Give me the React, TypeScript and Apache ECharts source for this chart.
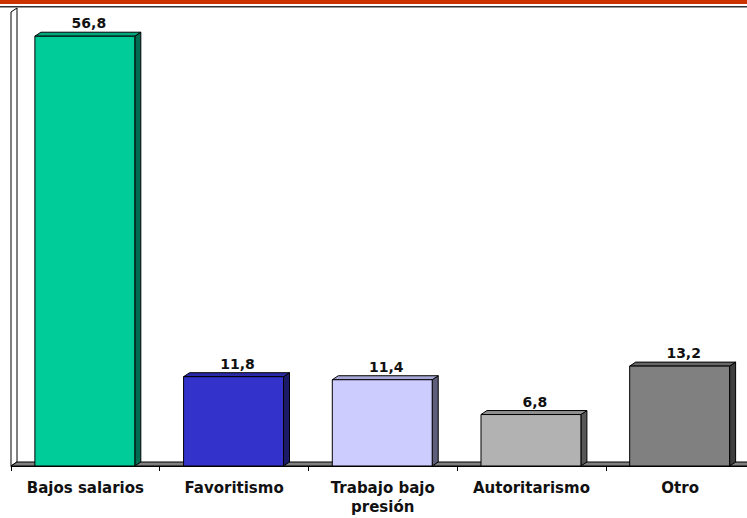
import React, { useEffect, useRef } from "react";
import * as echarts from "echarts";

const categories = ["Bajos salarios", "Favoritismo", "Trabajo bajo\npresión", "Autoritarismo", "Otro"];
const values = [56.8, 11.8, 11.4, 6.8, 13.2];
const valueLabels = ["56,8", "11,8", "11,4", "6,8", "13,2"];
const frontColors = ["#00CC99", "#3333CC", "#CCCCFF", "#B2B2B2", "#808080"];
const topColors = ["#00A87E", "#2A2AA8", "#A8A8D6", "#8F8F8F", "#686868"];
const sideColors = ["#006B50", "#1A1A66", "#5E5E7A", "#575757", "#3E3E3E"];
const yMin = 0;
const yMax = 60;

const DX = 6;
const DY = -4;
const FONT = '"DejaVu Sans", Verdana, sans-serif';

export default function App() {
  const ref = useRef<HTMLDivElement>(null);
  useEffect(() => {
    if (!ref.current) return;
    const chart = echarts.init(ref.current, undefined, { renderer: "svg" });
    const option: any = {
      animation: false,
      backgroundColor: "#ffffff",
      grid: { left: 11, top: 12, bottom: 52, width: 743.5, containLabel: false },
      graphic: [
        { type: "rect", left: 0, top: 0, shape: { x: 0, y: 0, width: 770, height: 4 }, style: { fill: "#CC3300" }, z: 10 },
        { type: "rect", left: 0, top: 6, shape: { x: 0, y: 0, width: 770, height: 1.5 }, style: { fill: "#333333" }, z: 10 },
      ],
      xAxis: {
        type: "category",
        data: categories,
        boundaryGap: true,
        axisLine: { show: true, lineStyle: { color: "#000", width: 1 } },
        axisTick: { show: true, length: 5, lineStyle: { color: "#000" } },
        axisLabel: {
          interval: 0,
          margin: 12,
          color: "#111",
          fontFamily: FONT,
          fontWeight: "bold",
          fontSize: 15,
          lineHeight: 19,
        },
        z: 5,
      },
      yAxis: {
        type: "value",
        min: yMin,
        max: yMax,
        show: false,
        splitLine: { show: false },
      },
      series: [
        {
          type: "custom",
          z: 1,
          silent: true,
          data: [[0, 0]],
          renderItem: (params: any) => {
            const cs = params.coordSys;
            const yb = cs.y + cs.height;
            const x0 = cs.x;
            const x1 = cs.x + cs.width;
            return {
              type: "group",
              children: [
                {
                  type: "polygon",
                  shape: { points: [[x0, yb], [x0, cs.y], [x0 + DX, cs.y + DY], [x0 + DX, yb + DY]] },
                  style: { fill: "#ffffff", stroke: "#000000", lineWidth: 1 },
                },
                {
                  type: "polygon",
                  shape: { points: [[x0, yb], [x0 + DX, yb + DY], [x1 + DX, yb + DY], [x1, yb]] },
                  style: { fill: "#808080", stroke: "#000000", lineWidth: 1 },
                },
              ],
            };
          },
        },
        {
          type: "custom",
          z: 3,
          data: values.map((v, i) => [i, v]),
          renderItem: (params: any, api: any) => {
            const idx = api.value(0);
            const val = api.value(1);
            const base = api.coord([idx, 0]);
            const top = api.coord([idx, val]);
            const band = api.size([1, 0])[0];
            const w = band * 0.672;
            const x0 = base[0] - w / 2 - 0.5;
            const x1 = x0 + w;
            const yb = base[1];
            const yt = top[1];
            const i = params.dataIndex;
            return {
              type: "group",
              children: [
                {
                  type: "polygon",
                  shape: { points: [[x1, yt], [x1 + DX, yt + DY], [x1 + DX, yb + DY], [x1, yb]] },
                  style: { fill: sideColors[i], stroke: "#000", lineWidth: 1 },
                },
                {
                  type: "polygon",
                  shape: { points: [[x0, yt], [x0 + DX, yt + DY], [x1 + DX, yt + DY], [x1, yt]] },
                  style: { fill: topColors[i], stroke: "#000", lineWidth: 1 },
                },
                {
                  type: "rect",
                  shape: { x: x0, y: yt, width: w, height: yb - yt },
                  style: { fill: frontColors[i], stroke: "#000", lineWidth: 1 },
                },
                {
                  type: "text",
                  x: (x0 + x1) / 2 + 4,
                  y: yt - 6,
                  style: {
                    text: valueLabels[i],
                    fill: "#111",
                    font: `bold 14px ${FONT}`,
                    align: "center",
                    verticalAlign: "bottom",
                  },
                },
              ],
            };
          },
        },
      ],
    };
    chart.setOption(option);
    return () => chart.dispose();
  }, []);
  return (
    <div
      style={{ position: "absolute", left: 0, top: 0, width: 747, height: 518, overflow: "hidden", background: "#fff" }}
    >
      <div ref={ref} style={{ width: 770, height: 518, background: "#fff" }} />
    </div>
  );
}
